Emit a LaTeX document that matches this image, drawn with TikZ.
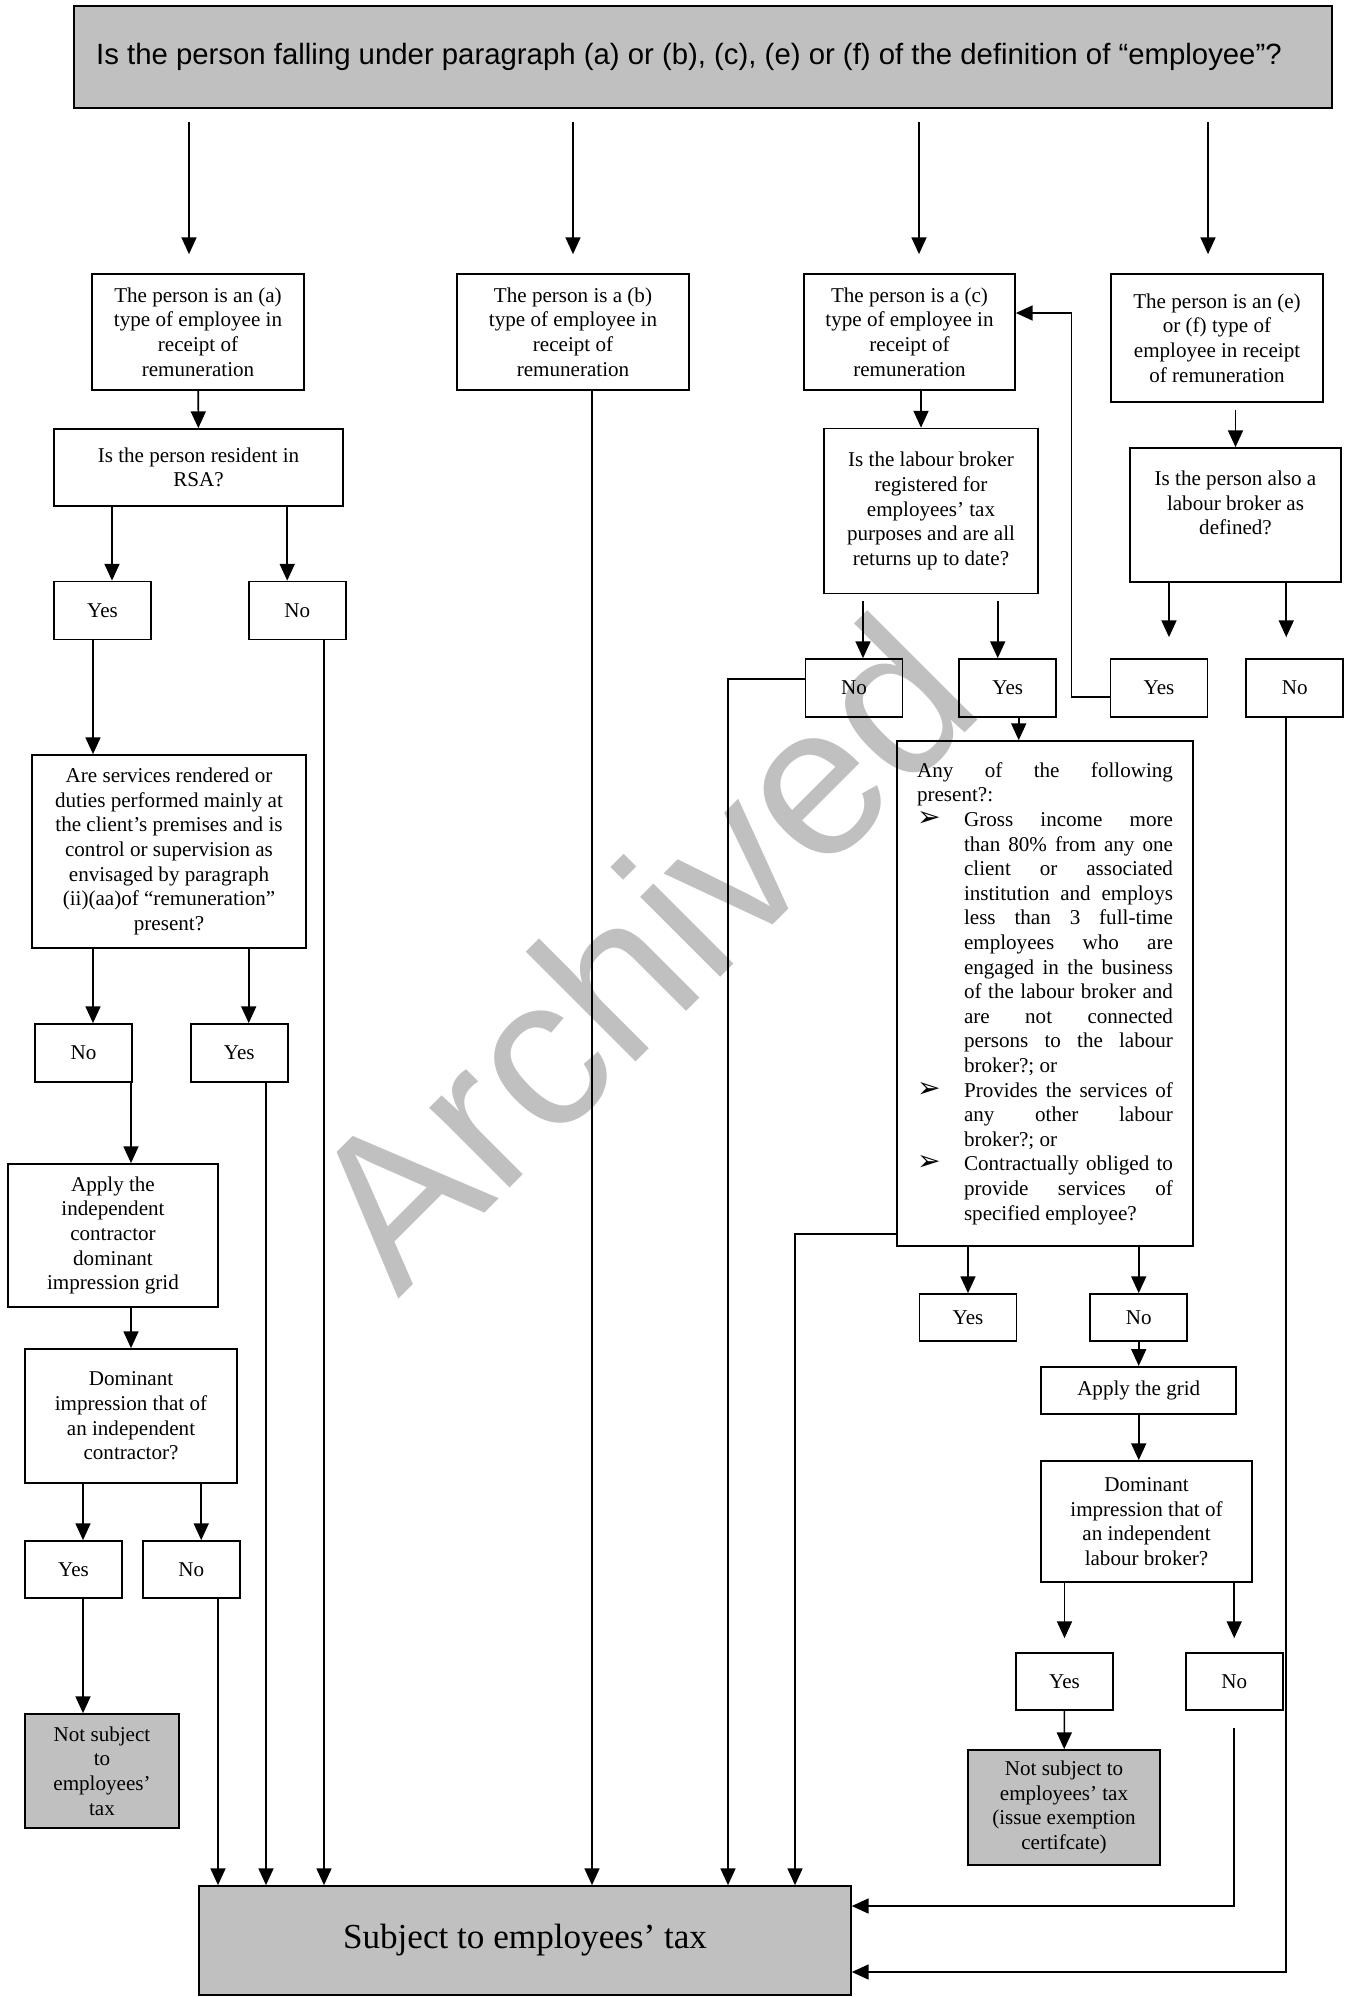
\documentclass[tikz,border=0pt]{standalone}
\usepackage{fontspec}
\setmainfont{Liberation Serif}
\newfontfamily\arialfont{Liberation Sans}
\newfontfamily\dingfont{DejaVu Sans}
\usetikzlibrary{arrows.meta,positioning}
\definecolor{boxgray}{RGB}{192,192,192}

\begin{document}
\begin{tikzpicture}[x=0.02cm,y=-0.02cm,>={Triangle[width=8.5pt,length=9.5pt]},line width=0.9pt,
	box/.style={draw,line width=1pt,inner sep=2pt,align=center,font=\fontsize{12}{14}\selectfont},
	greybox/.style={box,fill=boxgray},
	yn/.style={box,minimum width=1.94cm,minimum height=1.16cm},
	ynlow/.style={yn,minimum height=0.94cm}]
			\useasboundingbox (0,0) rectangle (1350,1997);
			\node[rotate=45,anchor=base west,inner sep=0pt,text=boxgray,font=\arialfont\fontsize{122}{122}\selectfont] (wm) at (398,1300) {Archived};
			\node[greybox,minimum width=25.16cm,minimum height=2.04cm,font=\arialfont\fontsize{16.7}{20}\selectfont] (q) at (703,57) {\hspace*{-0.56cm}Is the person falling under paragraph (a) or (b), (c), (e) or (f) of the definition of “employee”?};
			\node[box,minimum width=4.24cm,minimum height=2.32cm] (ta) at (198,332) {The person is an (a)\\type of employee in\\receipt of\\remuneration};
			\node[box,minimum width=4.64cm,minimum height=2.32cm] (tb) at (573,332) {The person is a (b)\\type of employee in\\receipt of\\remuneration};
			\node[box,minimum width=4.22cm,minimum height=2.32cm] (tc) at (909.5,332) {The person is a (c)\\type of employee in\\receipt of\\remuneration};
			\node[box,minimum width=4.24cm,minimum height=2.56cm] (te) at (1217,338) {The person is an (e)\\or (f) type of\\employee in receipt\\of remuneration};
			\node[box,minimum width=5.78cm,minimum height=1.54cm] (rsa) at (198.5,467.5) {Is the person resident in\\RSA?};
			\node[yn] (y1) at (102.5,610.5) {Yes};
			\node[yn,right=1.92cm of y1] (n1) {No};
			\node[box,minimum width=5.48cm,minimum height=3.86cm] (serv) at (169,851.5) {Are services rendered or\\duties performed mainly at\\the client’s premises and is\\control or supervision as\\envisaged by paragraph\\(ii)(aa)of “remuneration”\\present?};
			\node[yn] (n2) at (83.5,1053) {No};
			\node[yn,right=1.14cm of n2] (y2) {Yes};
			\node[box,minimum width=4.2cm,minimum height=2.86cm] (appa) at (113,1235.5) {Apply the\\independent\\contractor\\dominant\\impression grid};
			\node[box,minimum width=4.24cm,minimum height=2.68cm] (doma) at (131,1416) {Dominant\\impression that of\\an independent\\contractor?};
			\node[yn,minimum height=1.14cm] (y3) at (73.5,1569.5) {Yes};
			\node[yn,minimum height=1.14cm,right=0.38cm of y3] (n3) {No};
			\node[greybox,minimum width=3.08cm,minimum height=2.28cm] (nsa) at (102,1771) {Not subject\\to\\employees’\\tax};
			\node[greybox,minimum width=13.04cm,minimum height=2.18cm,font=\fontsize{20}{24}\selectfont] (subj) at (525,1940.5) {Subject to employees’ tax};
			\node[box,minimum width=4.28cm,minimum height=3.3cm] (lab) at (931,511) {Is the labour broker\\registered for\\employees’ tax\\purposes and are all\\returns up to date?};
			\node[yn] (n4) at (854,688) {No};
			\node[yn,right=1.1cm of n4] (y4) {Yes};
			\node[box,minimum width=5.92cm,minimum height=10.1cm,text width=5.12cm,align=justify] (any) at (1045,993.5) {%
				\noindent Any of the following\linebreak present?:\par
				\hangindent=0.94cm\hangafter=0\noindent\llap{\makebox[0.94cm][l]{\dingfont\fontsize{16}{14}\selectfont ➢}}Gross income more\linebreak than 80\% from any one\linebreak client or associated\linebreak institution and employs\linebreak less than 3 full-time\linebreak employees who are\linebreak engaged in the business\linebreak of the labour broker and\linebreak are not connected\linebreak persons to the labour\linebreak broker?; or\par
				\hangindent=0.94cm\hangafter=0\noindent\llap{\makebox[0.94cm][l]{\dingfont\fontsize{16}{14}\selectfont ➢}}Provides the services of\linebreak any other labour\linebreak broker?; or\par
				\hangindent=0.94cm\hangafter=0\noindent\llap{\makebox[0.94cm][l]{\dingfont\fontsize{16}{14}\selectfont ➢}}Contractually obliged to\linebreak provide services of\linebreak specified employee?\par};
			\node[ynlow] (y5) at (968,1317.5) {Yes};
			\node[ynlow,right=1.44cm of y5] (n5) {No};
			\node[box,minimum width=3.9cm,minimum height=0.94cm,below=0.48cm of n5] (appb) {Apply the grid};
			\node[box,minimum width=4.22cm,minimum height=2.42cm] (domb) at (1146.5,1521.5) {Dominant\\impression that of\\an independent\\labour broker?};
			\node[yn,minimum height=1.14cm] (y6) at (1064.5,1681.5) {Yes};
			\node[yn,minimum height=1.14cm,right=1.42cm of y6] (n6) {No};
			\node[greybox,minimum width=3.84cm,minimum height=2.3cm] (nsb) at (1064,1807.5) {Not subject to\\employees’ tax\\(issue exemption\\certifcate)};
			\node[box,minimum width=4.22cm,minimum height=2.68cm] (eq) at (1235.5,515) {Is the person also a\\labour broker as\\defined?\\\mbox{}};
			\node[yn] (y7) at (1159,688) {Yes};
			\node[yn,right=0.74cm of y7] (n7) {No};
			\path[->]
				([xshift=-0.18cm]q.south -| ta) edge[shorten <=0.26cm,shorten >=0.38cm] ([xshift=-0.18cm]ta.north)
				(q.south -| tb) edge[shorten <=0.26cm,shorten >=0.38cm] (tb.north)
				([xshift=0.19cm]q.south -| tc) edge[shorten <=0.26cm,shorten >=0.38cm] ([xshift=0.19cm]tc.north)
				([xshift=-0.18cm]q.south -| te) edge[shorten <=0.26cm,shorten >=0.38cm] ([xshift=-0.18cm]te.north)
				(ta) edge (rsa)
				([xshift=0.19cm]rsa.south -| y1) edge ([xshift=0.19cm]y1.north)
				([xshift=-0.2cm]rsa.south -| n1) edge ([xshift=-0.2cm]n1.north)
				([xshift=-0.19cm]y1.south) edge ([xshift=-0.19cm]y1.south |- serv.north)
				([xshift=0.19cm]serv.south -| n2) edge ([xshift=0.19cm]n2.north)
				([xshift=0.19cm]serv.south -| y2) edge ([xshift=0.19cm]y2.north)
				(n2.south -| doma) edge (appa.north -| doma)
				(appa.south -| doma) edge (doma)
				([xshift=0.19cm]doma.south -| y3) edge ([xshift=0.19cm]y3.north)
				([xshift=0.2cm]doma.south -| n3) edge ([xshift=0.2cm]n3.north)
				([xshift=0.19cm]y3.south) edge ([xshift=0.19cm]y3.south |- nsa.north)
				(324,0 |- n1.south) edge (324,0 |- subj.north)
				(266,0 |- y2.south) edge (266,0 |- subj.north)
				(218,0 |- n3.south) edge (218,0 |- subj.north)
				(592,0 |- tb.south) edge (592,0 |- subj.north)
				([xshift=-0.2cm]tc.south -| lab) edge ([xshift=-0.2cm]lab.north)
				([xshift=0.18cm]lab.south -| n4) edge[shorten <=0.14cm] ([xshift=0.18cm]n4.north)
				([xshift=-0.2cm]lab.south -| y4) edge[shorten <=0.14cm] ([xshift=-0.2cm]y4.north)
				([xshift=0.22cm]y4.south) edge ([xshift=0.22cm]y4.south |- any.north)
				(any.south -| y5) edge (y5)
				(any.south -| n5) edge (n5)
				(n5) edge (appb)
				(appb.south) edge (appb.south |- domb.north)
				(domb.south -| y6) edge[shorten >=0.28cm] (y6)
				(domb.south -| n6) edge[shorten >=0.28cm] (n6)
				(y6) edge (nsb)
				(te.south -| eq) edge[shorten <=0.14cm] (eq)
				([xshift=0.2cm]eq.south -| y7) edge[shorten >=0.42cm] ([xshift=0.2cm]y7.north)
				([xshift=-0.17cm]eq.south -| n7) edge[shorten >=0.42cm] ([xshift=-0.17cm]n7.north);
			\draw[->] ([yshift=0.18cm]n4.west) -| (728,0 |- subj.north);
			\draw[->] ([yshift=0.26cm]any.south west) -| (795,0 |- subj.north);
			\draw[->] ([yshift=-0.18cm]y7.west) -- ++(-0.76cm,0) |- ([yshift=0.38cm]tc.east);
			\draw[->,shorten <=0.34cm] (n6.south) |- ([yshift=0.69cm]subj.east);
			\draw[->] ([xshift=-0.17cm]n7.south) |- ([yshift=-0.63cm]subj.east);
		\end{tikzpicture}
\end{document}
